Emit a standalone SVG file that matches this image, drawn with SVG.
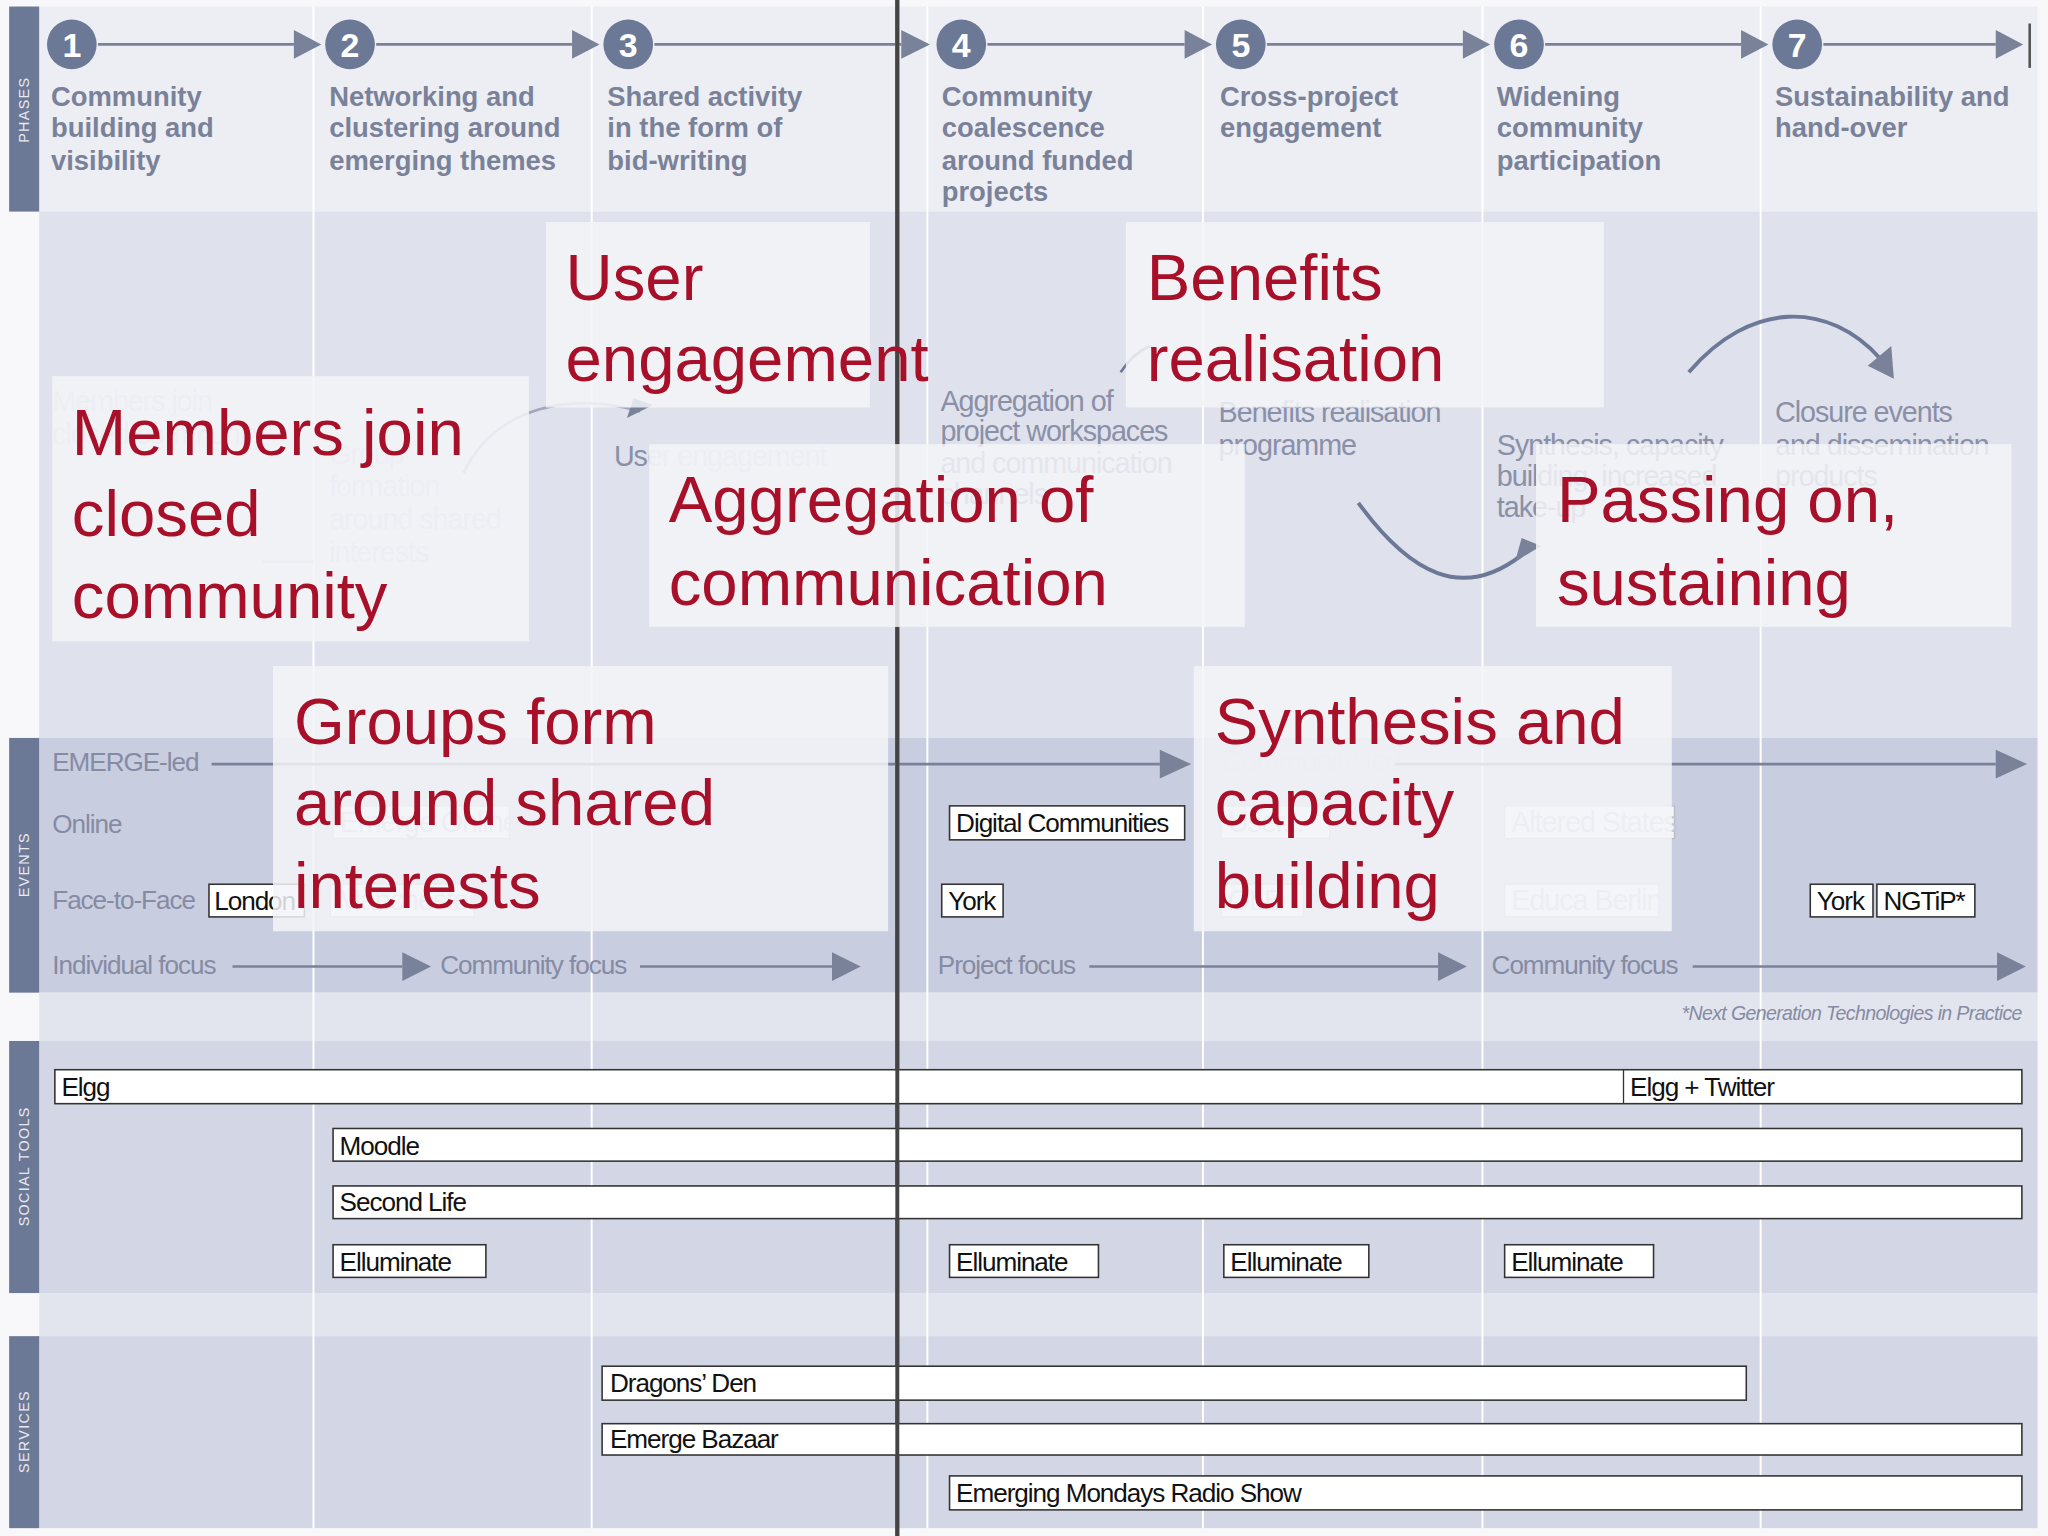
<svg xmlns="http://www.w3.org/2000/svg" width="2048" height="1536" viewBox="0 0 2048 1536">
<style>
.ph{font-family:"Liberation Sans",Arial,sans-serif;font-weight:bold;font-size:21px;fill:#7a8299}
.num{font-family:"Liberation Sans",Arial,sans-serif;font-weight:bold;font-size:26px;fill:#fff;text-anchor:middle}
.side{font-family:"Liberation Sans",Arial,sans-serif;font-size:11px;fill:#e8eaf2;letter-spacing:1px;text-anchor:middle}
.lab{font-family:"Liberation Sans",Arial,sans-serif;font-size:20px;fill:#858ba3;letter-spacing:-0.8px}
.faint{font-family:"Liberation Sans",Arial,sans-serif;font-size:22px;fill:#c3c7d6;letter-spacing:-0.8px}
.big{font-family:"Liberation Sans",Arial,sans-serif;font-size:50px;fill:#a8102a}
.bt{font-family:"Liberation Sans",Arial,sans-serif;font-size:20px;fill:#111;letter-spacing:-0.8px}
.bx{fill:#fff;stroke:#333;stroke-width:1.2}
.fbx{fill:#f4f5f9;stroke:#bbb;stroke-width:1}
.ov{fill:#f3f4f8;opacity:0.85}
.ln{stroke:#7a8299;stroke-width:2;fill:none}
.arr{fill:#7a8299}
</style>
<g transform="scale(1.30612)">
<rect width="1568" height="1176" fill="#f8f8fb"/>
<!-- bands -->
<rect x="30" y="5" width="1530" height="157" fill="#eceef4"/>
<rect x="30" y="162" width="1530" height="403" fill="#dfe2ec"/>
<rect x="30" y="565" width="1530" height="195" fill="#c9cde0"/>
<rect x="30" y="760" width="1530" height="37" fill="#e3e5ee"/>
<rect x="30" y="797" width="1530" height="193" fill="#d3d6e5"/>
<rect x="30" y="990" width="1530" height="33" fill="#e3e5ee"/>
<rect x="30" y="1023" width="1530" height="147" fill="#d3d6e5"/>
<g fill="#6b7896">
<rect x="7" y="5" width="23" height="157"/><rect x="7" y="565" width="23" height="195"/><rect x="7" y="797" width="23" height="193"/><rect x="7" y="1023" width="23" height="147"/>
</g>
<text class="side" transform="translate(22,84) rotate(-90)">PHASES</text>
<text class="side" transform="translate(22,662) rotate(-90)">EVENTS</text>
<text class="side" transform="translate(22,893) rotate(-90)">SOCIAL TOOLS</text>
<text class="side" transform="translate(22,1096) rotate(-90)">SERVICES</text>
<g stroke="#fff" stroke-width="1.5">
<line x1="240" y1="5" x2="240" y2="1170"/><line x1="453" y1="5" x2="453" y2="1170"/><line x1="710" y1="5" x2="710" y2="1170"/><line x1="921" y1="5" x2="921" y2="1170"/><line x1="1135" y1="5" x2="1135" y2="1170"/><line x1="1348" y1="5" x2="1348" y2="1170"/>
</g>
<line x1="687" y1="0" x2="687" y2="1176" stroke="#444" stroke-width="3"/>
<!-- phases -->
<g id="phases">
<g class="ln"><line x1="75" y1="34" x2="225" y2="34"/><line x1="288" y1="34" x2="438" y2="34"/><line x1="501" y1="34" x2="690" y2="34"/><line x1="756" y1="34" x2="907" y2="34"/><line x1="970" y1="34" x2="1120" y2="34"/><line x1="1183" y1="34" x2="1333" y2="34"/><line x1="1396" y1="34" x2="1528" y2="34"/></g>
<g class="arr"><path d="M225,23 L246,34 L225,45Z"/><path d="M438,23 L459,34 L438,45Z"/><path d="M690,23 L712,34 L690,45Z"/><path d="M907,23 L928,34 L907,45Z"/><path d="M1120,23 L1141,34 L1120,45Z"/><path d="M1333,23 L1354,34 L1333,45Z"/><path d="M1528,23 L1549,34 L1528,45Z"/></g>
<line x1="1554" y1="18" x2="1554" y2="52" stroke="#555" stroke-width="2"/>
<g fill="#6b7896"><circle cx="55" cy="34" r="19"/><circle cx="268" cy="34" r="19"/><circle cx="481" cy="34" r="19"/><circle cx="736" cy="34" r="19"/><circle cx="950" cy="34" r="19"/><circle cx="1163" cy="34" r="19"/><circle cx="1376" cy="34" r="19"/></g>
<text class="num" x="55" y="44">1</text><text class="num" x="268" y="44">2</text><text class="num" x="481" y="44">3</text><text class="num" x="736" y="44">4</text><text class="num" x="950" y="44">5</text><text class="num" x="1163" y="44">6</text><text class="num" x="1376" y="44">7</text>
<text class="ph" x="39" y="81">Community<tspan x="39" y="105">building and</tspan><tspan x="39" y="130">visibility</tspan></text>
<text class="ph" x="252" y="81">Networking and<tspan x="252" y="105">clustering around</tspan><tspan x="252" y="130">emerging themes</tspan></text>
<text class="ph" x="465" y="81">Shared activity<tspan x="465" y="105">in the form of</tspan><tspan x="465" y="130">bid-writing</tspan></text>
<text class="ph" x="721" y="81">Community<tspan x="721" y="105">coalescence</tspan><tspan x="721" y="130">around funded</tspan><tspan x="721" y="154">projects</tspan></text>
<text class="ph" x="934" y="81">Cross-project<tspan x="934" y="105">engagement</tspan></text>
<text class="ph" x="1146" y="81">Widening<tspan x="1146" y="105">community</tspan><tspan x="1146" y="130">participation</tspan></text>
<text class="ph" x="1359" y="81">Sustainability and<tspan x="1359" y="105">hand-over</tspan></text>
</g>
<!-- faint underlying -->
<g id="faint">
<text class="faint" x="40" y="315">Members join<tspan x="40" y="340">closed community</tspan></text>
<text class="faint" x="252" y="355">Group<tspan x="252" y="380">formation</tspan><tspan x="252" y="405">around shared</tspan><tspan x="252" y="430">interests</tspan></text>
<text class="faint" x="470" y="357" style="fill:#8a90a8">Us<tspan style="fill:#c3c7d6">er engagement</tspan></text>
<text class="faint" x="720" y="315" style="fill:#8a90a8">Aggregation of<tspan x="720" y="338">project workspaces</tspan><tspan x="720" y="362">and communication</tspan><tspan x="720" y="386">channels</tspan></text>
<text class="faint" x="933" y="323" style="fill:#8a90a8">Benefits realisation<tspan x="933" y="348">programme</tspan></text>
<text class="faint" x="1146" y="348" style="fill:#8a90a8">Synthesis, capacity<tspan x="1146" y="372">building, increased</tspan><tspan x="1146" y="396">take-up</tspan></text>
<text class="faint" x="1359" y="323" style="fill:#8a90a8">Closure events<tspan x="1359" y="348">and dissemination</tspan><tspan x="1359" y="372">products</tspan></text>
<path d="M355,362 C380,310 440,300 490,315" class="ln" style="stroke:#a0a6bb"/>
<path d="M480,320 L500,310 L485,305Z" class="arr"/>
<path d="M200,430 L240,430" class="ln" style="stroke:#c3c7d6"/>
<path d="M1040,385 C1080,440 1120,460 1165,425" class="ln" style="stroke:#6b7896;stroke-width:3"/>
<path d="M1160,430 L1180,418 L1165,412Z" class="arr"/>
<path d="M1293,285 C1340,230 1400,230 1440,275" class="ln" style="stroke:#6b7896;stroke-width:3"/>
<path d="M1430,280 L1450,290 L1448,265Z" class="arr"/>
<path d="M858,285 C865,275 870,270 880,265" class="ln" style="stroke:#6b7896;stroke-width:2"/>
</g>
<!-- events -->
<g id="events">
<text class="lab" x="40" y="590">EMERGE-led</text>
<line x1="162" y1="585" x2="888" y2="585" class="ln"/><path d="M888,574 L912,585 L888,596Z" class="arr"/>
<text class="faint" x="935" y="590">Community-led</text>
<line x1="1068" y1="585" x2="1528" y2="585" class="ln"/><path d="M1528,574 L1552,585 L1528,596Z" class="arr"/>
<text class="lab" x="40" y="638">Online</text>
<text class="lab" x="40" y="696">Face-to-Face</text>
<rect class="fbx" x="255" y="617" width="135" height="25"/><text class="faint" x="260" y="637">Emerge Online</text>
<rect class="bx" x="727" y="617" width="180" height="26"/><text class="bt" x="732" y="637">Digital Communities</text>
<rect class="fbx" x="935" y="617" width="83" height="25"/><text class="faint" x="940" y="637">User...</text>
<rect class="fbx" x="1152" y="617" width="130" height="25"/><text class="faint" x="1157" y="637">Altered States</text>
<rect class="bx" x="160" y="677" width="73" height="25"/><text class="bt" x="164" y="697">London</text>
<rect class="fbx" x="253" y="677" width="110" height="25"/><text class="faint" x="258" y="697">Manchester</text>
<rect class="bx" x="721" y="677" width="47" height="25"/><text class="bt" x="726" y="697">York</text>
<rect class="fbx" x="935" y="677" width="63" height="25"/><text class="faint" x="940" y="697">OLE</text>
<rect class="fbx" x="1152" y="677" width="118" height="25"/><text class="faint" x="1157" y="697">Educa Berlin</text>
<rect class="bx" x="1386" y="677" width="48" height="25"/><text class="bt" x="1391" y="697">York</text>
<rect class="bx" x="1437" y="677" width="75" height="25"/><text class="bt" x="1442" y="697">NGTiP*</text>
<text class="lab" x="40" y="746">Individual focus</text>
<line x1="178" y1="740" x2="308" y2="740" class="ln"/><path d="M308,729 L330,740 L308,751Z" class="arr"/>
<text class="lab" x="337" y="746">Community focus</text>
<line x1="490" y1="740" x2="637" y2="740" class="ln"/><path d="M637,729 L659,740 L637,751Z" class="arr"/>
<text class="lab" x="718" y="746">Project focus</text>
<line x1="834" y1="740" x2="1101" y2="740" class="ln"/><path d="M1101,729 L1123,740 L1101,751Z" class="arr"/>
<text class="lab" x="1142" y="746">Community focus</text>
<line x1="1296" y1="740" x2="1529" y2="740" class="ln"/><path d="M1529,729 L1551,740 L1529,751Z" class="arr"/>
<text x="1548" y="781" text-anchor="end" style="font-family:'Liberation Sans',Arial,sans-serif;font-style:italic;font-size:15px;fill:#858ba3;letter-spacing:-0.5px">*Next Generation Technologies in Practice</text>
</g>
<!-- social tools -->
<g id="tools">
<rect class="bx" x="42" y="819" width="1506" height="26"/><text class="bt" x="47" y="839">Elgg</text>
<line x1="1243" y1="819" x2="1243" y2="845" stroke="#333"/><text class="bt" x="1248" y="839">Elgg + Twitter</text>
<rect class="bx" x="255" y="864" width="1293" height="25"/><text class="bt" x="260" y="884">Moodle</text>
<rect class="bx" x="255" y="908" width="1293" height="25"/><text class="bt" x="260" y="927">Second Life</text>
<rect class="bx" x="255" y="953" width="117" height="25"/><text class="bt" x="260" y="973">Elluminate</text>
<rect class="bx" x="727" y="953" width="114" height="25"/><text class="bt" x="732" y="973">Elluminate</text>
<rect class="bx" x="937" y="953" width="111" height="25"/><text class="bt" x="942" y="973">Elluminate</text>
<rect class="bx" x="1152" y="953" width="114" height="25"/><text class="bt" x="1157" y="973">Elluminate</text>
</g>
<g id="services">
<rect class="bx" x="461" y="1046" width="876" height="26"/><text class="bt" x="467" y="1066">Dragons’ Den</text>
<rect class="bx" x="461" y="1090" width="1087" height="24"/><text class="bt" x="467" y="1109">Emerge Bazaar</text>
<rect class="bx" x="727" y="1130" width="821" height="26"/><text class="bt" x="732" y="1150">Emerging Mondays Radio Show</text>
</g>
<line x1="687" y1="0" x2="687" y2="1176" stroke="#444" stroke-width="3"/>
<!-- overlays -->
<g id="overlays">
<rect class="ov" x="40" y="288" width="365" height="203"/>
<text class="big" x="55" y="348">Members join<tspan x="55" y="410">closed</tspan><tspan x="55" y="473">community</tspan></text>
<rect class="ov" x="418" y="170" width="248" height="142"/>
<text class="big" x="433" y="230">User<tspan x="433" y="292">engagement</tspan></text>
<rect class="ov" x="497" y="340" width="456" height="140"/>
<text class="big" x="512" y="400">Aggregation of<tspan x="512" y="463">communication</tspan></text>
<rect class="ov" x="862" y="170" width="366" height="142"/>
<text class="big" x="878" y="230">Benefits<tspan x="878" y="292">realisation</tspan></text>
<rect class="ov" x="1176" y="340" width="364" height="140"/>
<text class="big" x="1192" y="400">Passing on,<tspan x="1192" y="463">sustaining</tspan></text>
<rect class="ov" x="209" y="510" width="471" height="203"/>
<text class="big" x="225" y="570">Groups form<tspan x="225" y="632">around shared</tspan><tspan x="225" y="695">interests</tspan></text>
<rect class="ov" x="914" y="510" width="366" height="203"/>
<text class="big" x="930" y="570">Synthesis and<tspan x="930" y="632">capacity</tspan><tspan x="930" y="695">building</tspan></text>
</g>
</g>
</svg>
